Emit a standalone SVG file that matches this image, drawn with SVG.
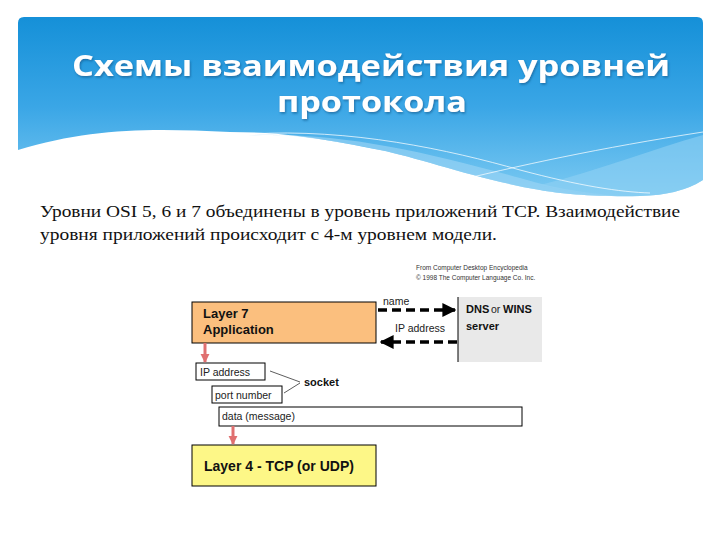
<svg xmlns="http://www.w3.org/2000/svg" width="720" height="540" viewBox="0 0 720 540">
<defs>
<linearGradient id="hdr" x1="0" y1="0" x2="0" y2="1">
<stop offset="0" stop-color="#1590d8"/>
<stop offset="0.5" stop-color="#3aa6e6"/>
<stop offset="1" stop-color="#7ccaf2"/>
</linearGradient>
<filter id="sh" x="-5%" y="-20%" width="110%" height="140%">
<feDropShadow dx="1" dy="1.5" stdDeviation="1" flood-color="#0a4f80" flood-opacity="0.6"/>
</filter>
<marker id="ah" viewBox="0 0 10 10" refX="9" refY="5" markerWidth="4" markerHeight="4" orient="auto">
<path d="M0,0 L10,5 L0,10 z" fill="#000"/>
</marker>
<marker id="rh" viewBox="0 0 10 10" refX="9" refY="5" markerWidth="3" markerHeight="3.5" orient="auto">
<path d="M0,0 L10,5 L0,10 z" fill="#e07070"/>
</marker>
</defs>
<style>
.title{font-family:"Open Sans","DejaVu Sans",sans-serif;font-weight:bold;fill:#fff;font-size:28px}
.body{font-family:"Liberation Serif","DejaVu Serif",serif;font-size:17px;fill:#111}
.lbl{font-family:"Liberation Sans",Arial,sans-serif;font-weight:bold;font-size:13px;fill:#111}
.dns{font-family:"Liberation Sans",Arial,sans-serif;font-weight:bold;font-size:11px;fill:#111}
.sock{font-family:"Liberation Sans",Arial,sans-serif;font-weight:bold;font-size:11px;fill:#111}
.l4{font-family:"Liberation Sans",Arial,sans-serif;font-weight:bold;font-size:14px;fill:#111}
.sm{font-family:"Liberation Sans",Arial,sans-serif;font-size:10.5px;fill:#222}
.tiny{font-family:"Liberation Sans",Arial,sans-serif;font-size:6.5px;fill:#333}
.box{stroke:#000;stroke-width:1}
.dash{stroke:#000;stroke-width:3.5;stroke-dasharray:9,5;fill:none}
.red{stroke:#e07070;stroke-width:3;fill:none}
.thin{stroke:#333;stroke-width:0.8;fill:none}
</style>
<rect width="720" height="540" fill="#fff"/>
<g id="header">
<path d="M24,17 H697 Q703,17 703,23 V180 Q680,195 640,196 C600,197 560,194 540,190 C480,180 420,158 380,150 C320,138 280,132 230,132 C150,128 90,128 18,150 V23 Q18,17 24,17 Z" fill="url(#hdr)"/>
<path d="M240,136 C330,130 420,150 520,178 C560,190 600,196 640,196 C600,197 560,194 540,190 C480,180 420,158 380,150 C320,138 280,132 240,136 Z" fill="#9fd6f5" opacity="0.6"/>
<path d="M540,185 C600,170 650,150 703,135 V180 Q680,195 640,196 C600,196 570,192 540,185 Z" fill="#8fd0f4" opacity="0.6"/>
<path d="M250,134 C350,128 450,150 520,170 C580,186 620,192 650,193" stroke="#fff" stroke-width="0.8" fill="none" opacity="0.9"/>
<path d="M440,185 C520,165 600,148 703,132" stroke="#fff" stroke-width="0.8" fill="none" opacity="0.9"/>
<text class="title" x="371" y="76" text-anchor="middle" textLength="598" lengthAdjust="spacingAndGlyphs" filter="url(#sh)">Схемы взаимодействия уровней</text>
<text class="title" x="372" y="112" text-anchor="middle" textLength="190" lengthAdjust="spacingAndGlyphs" filter="url(#sh)">протокола</text>
</g>
<g id="body-text">
<text class="body" x="40" y="217" textLength="640" lengthAdjust="spacingAndGlyphs">Уровни OSI 5, 6 и 7 объединены в уровень приложений TCP. Взаимодействие</text>
<text class="body" x="40" y="240" textLength="457" lengthAdjust="spacingAndGlyphs">уровня приложений происходит с 4-м уровнем модели.</text>
</g>
<g id="source">
<text class="tiny" x="416" y="270">From Computer Desktop Encyclopedia</text>
<text class="tiny" x="416" y="280">© 1998 The Computer Language Co. Inc.</text>
</g>
<g id="layer7">
<rect x="192" y="302" width="184" height="41" fill="#fbbf7e" stroke="#000" stroke-width="1"/>
<text class="lbl" x="203" y="318">Layer 7</text>
<text class="lbl" x="203" y="334">Application</text>
</g>
<g id="dns">
<rect x="458" y="297" width="84" height="65" fill="#e9e9e9"/>
<line x1="458" y1="297" x2="458" y2="362" stroke="#000" stroke-width="1"/>
<text class="dns" x="466" y="313">DNS</text>
<text class="sm" x="491" y="313">or</text>
<text class="dns" x="503" y="313">WINS</text>
<text class="dns" x="466" y="330">server</text>
</g>
<g id="ip">
<rect x="196" y="363" width="69" height="17" fill="#fff" class="box"/>
<text class="sm" x="200" y="376">IP address</text>
</g>
<g id="port">
<rect x="212" y="386" width="70" height="17" fill="#fff" class="box"/>
<text class="sm" x="215" y="399">port number</text>
</g>
<g id="data">
<rect x="219" y="407" width="303" height="19" fill="#fff" class="box"/>
<text class="sm" x="222" y="420">data (message)</text>
</g>
<g id="socket">
<text class="sock" x="304" y="386">socket</text>
</g>
<g id="layer4">
<rect x="192" y="445" width="184" height="41" fill="#fdf787" stroke="#000" stroke-width="1"/>
<text class="l4" x="204" y="471">Layer 4 - TCP (or UDP)</text>
</g>
<g id="connectors">
<line class="dash" x1="378" y1="310" x2="455" y2="310" marker-end="url(#ah)"/>
<text class="sm" x="383" y="305">name</text>
<line class="dash" x1="457" y1="342" x2="381" y2="342" marker-end="url(#ah)"/>
<text class="sm" x="395" y="332">IP address</text>
<line class="red" x1="205" y1="343" x2="205" y2="362" marker-end="url(#rh)"/>
<line class="red" x1="233" y1="426" x2="233" y2="444" marker-end="url(#rh)"/>
<line class="thin" x1="270" y1="371" x2="300" y2="382"/>
<line class="thin" x1="284" y1="393" x2="300" y2="383"/>
</g>
</svg>
